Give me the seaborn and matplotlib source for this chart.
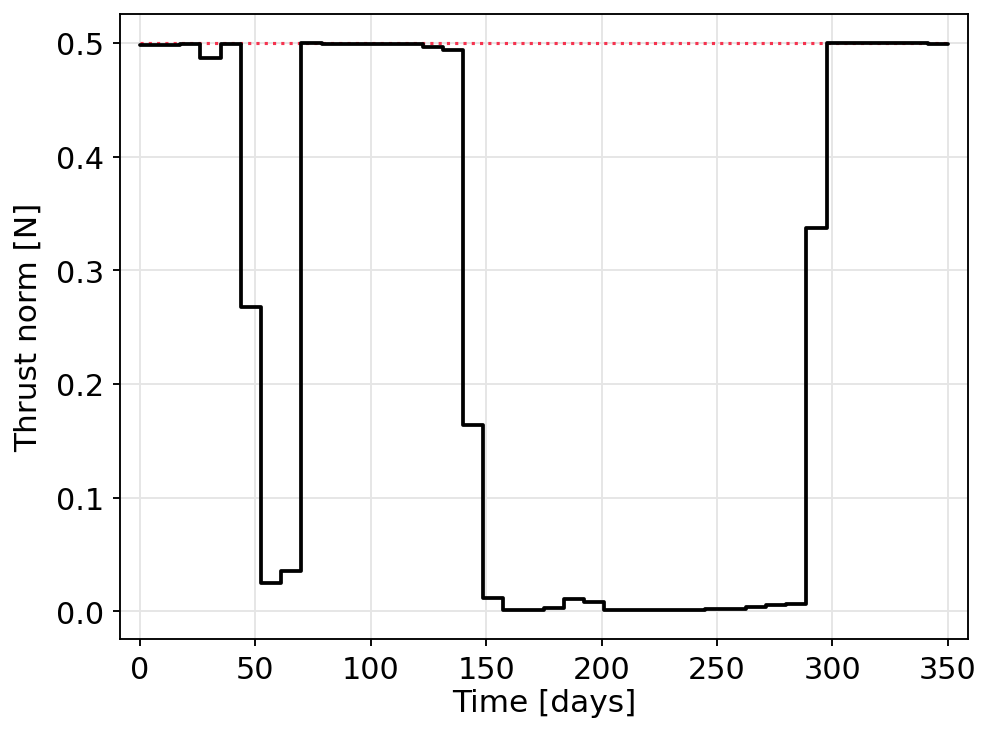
import numpy as np
import pandas as pd
import matplotlib
matplotlib.use('Agg')
import matplotlib.pyplot as plt
import seaborn as sns

# segment start times [days] and thrust level on each segment [N]
t_start = [0.0, 8.75, 17.5, 26.25, 35.0, 43.75, 52.5, 61.25, 70.0, 78.75,
           87.5, 96.25, 105.0, 113.75, 122.5, 131.25, 140.0, 148.75, 157.5, 166.25,
           175.0, 183.75, 192.5, 201.25, 210.0, 218.75, 227.5, 236.25, 245.0, 253.75,
           262.5, 271.25, 280.0, 288.75, 297.5, 306.25, 315.0, 323.75, 332.5, 341.25]
thrust = [0.498, 0.4985, 0.499, 0.487, 0.499, 0.268, 0.025, 0.035, 0.5, 0.499,
          0.499, 0.499, 0.499, 0.499, 0.496, 0.494, 0.164, 0.012, 0.0015, 0.0008,
          0.0025, 0.0105, 0.0082, 0.0009, 0.001, 0.0011, 0.0013, 0.0015, 0.0018, 0.0023,
          0.004, 0.0055, 0.006, 0.337, 0.5, 0.4995, 0.4995, 0.4995, 0.4995, 0.499]
t_end = 350.0
t_max = 0.5  # max thrust

# close the last step
df = pd.DataFrame({'time': t_start + [t_end], 'thrust': thrust + [thrust[-1]]})

sns.set_style('ticks')
plt.rcParams['font.family'] = ['DejaVu Sans']
plt.rcParams.update({'text.color': 'black', 'axes.labelcolor': 'black',
                     'xtick.color': 'black', 'ytick.color': 'black'})

fig, ax = plt.subplots(figsize=(6.64, 4.933), dpi=150)

# max thrust reference
ax.plot([0, t_end], [t_max, t_max], ':', color='#f5334f', lw=1.5, zorder=2)
sns.lineplot(data=df, x='time', y='thrust', drawstyle='steps-post', color='black',
             lw=1.8, ax=ax, zorder=3)

ax.set_xlim(-8.75, 358.75)
ax.set_ylim(-0.0245, 0.5255)
ax.set_xticks([0, 50, 100, 150, 200, 250, 300, 350])
ax.set_yticks([0.0, 0.1, 0.2, 0.3, 0.4, 0.5])
ax.grid(True, color='#e5e5e5', lw=0.9)
ax.set_axisbelow(True)
for s in ax.spines.values():
    s.set_visible(True)
    s.set_color('black')
    s.set_linewidth(0.9)
ax.tick_params(labelsize=14.5, length=3.5, width=0.9, pad=4)
ax.set_xlabel('Time [days]', fontsize=15, labelpad=2)
ax.set_ylabel('Thrust norm [N]', fontsize=15, labelpad=6)

fig.subplots_adjust(left=0.12, right=0.972, top=0.98, bottom=0.135)
fig.savefig('out.png', dpi=150)
